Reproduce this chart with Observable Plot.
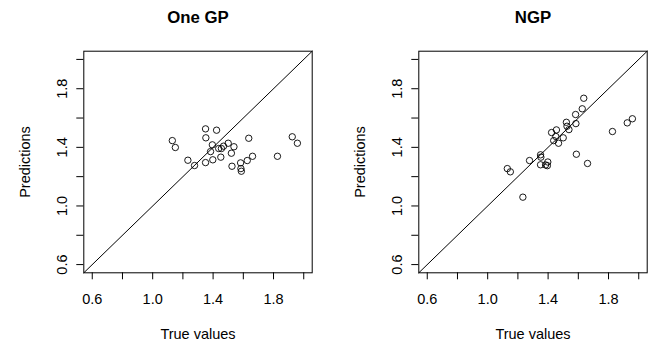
<!DOCTYPE html>
<html>
<head>
<meta charset="utf-8">
<script src="https://cdn.jsdelivr.net/npm/d3@7"></script>
<script src="https://cdn.jsdelivr.net/npm/@observablehq/plot@0.6"></script>
<style>
  html, body { margin: 0; padding: 0; background: #fff; }
  #chart { display: flex; width: 658px; height: 345px; }
</style>
</head>
<body>
<div id="chart"></div>
<script>
// True values (shared by both panels)
const trueValues = [1.13, 1.15, 1.233, 1.277, 1.35, 1.35, 1.352, 1.383, 1.395, 1.398,
  1.423, 1.437, 1.451, 1.455, 1.469, 1.50, 1.521, 1.525, 1.538, 1.582,
  1.584, 1.587, 1.626, 1.636, 1.661, 1.826, 1.924, 1.958];
// Predictions, One GP panel
const oneGpPred = [1.446, 1.399, 1.312, 1.276, 1.526, 1.296, 1.465, 1.371, 1.417, 1.315,
  1.517, 1.392, 1.333, 1.392, 1.408, 1.428, 1.360, 1.271, 1.404, 1.294,
  1.255, 1.237, 1.310, 1.462, 1.339, 1.339, 1.472, 1.428];
// Predictions, NGP panel
const ngpPred = [1.255, 1.233, 1.060, 1.310, 1.349, 1.281, 1.333, 1.280, 1.275, 1.300,
  1.501, 1.446, 1.474, 1.519, 1.428, 1.465, 1.571, 1.544, 1.521, 1.624,
  1.562, 1.353, 1.663, 1.735, 1.290, 1.508, 1.567, 1.595];

const panelTitles = ["One GP", "NGP"];
const axisTicks = [0.6, 0.8, 1.0, 1.2, 1.4, 1.6, 1.8, 2.0];
const axisLabels = [0.6, 1.0, 1.4, 1.8];
const limits = [0.544, 2.056];
const xLabel = "True values";
const yLabel = "Predictions";

const font = "'Liberation Sans', Arial, Helvetica, sans-serif";

function panel(title, preds, ml, mr) {
  const data = trueValues.map((x, i) => ({x, y: preds[i]}));
  return Plot.plot({
    width: 329,
    height: 345,
    marginTop: 50.7,
    marginBottom: 72.7,
    marginLeft: ml,
    marginRight: mr,
    x: {domain: limits, axis: null},
    y: {domain: limits, axis: null},
    style: {fontFamily: font, fontSize: "14.5px", color: "black", background: "white", overflow: "visible"},
    marks: [
      Plot.line(limits, {x: d => d, y: d => d, stroke: "black", strokeWidth: 1}),
      Plot.dot(data, {x: "x", y: "y", r: 3.2, stroke: "black", strokeWidth: 0.9, fill: "none"}),
      Plot.frame({stroke: "black", strokeWidth: 1}),
      Plot.axisX({ticks: axisTicks, tickSize: 7, tickFormat: () => "", label: null, anchor: "bottom"}),
      Plot.axisY({ticks: axisTicks, tickSize: 7, tickFormat: () => "", label: null, anchor: "left"}),
      Plot.text(axisLabels, {x: d => d, text: d => d.toFixed(1), frameAnchor: "bottom", dy: 26.5,
        lineAnchor: "middle", fontSize: 14.5}),
      Plot.text(axisLabels, {y: d => d, text: d => d.toFixed(1), frameAnchor: "left", dx: -21.5,
        rotate: -90, textAnchor: "middle", lineAnchor: "middle", fontSize: 14.5}),
      Plot.text([xLabel], {text: d => d, frameAnchor: "bottom", dy: 62, lineAnchor: "middle", fontSize: 14.5}),
      Plot.text([yLabel], {text: d => d, frameAnchor: "left", dx: -58, rotate: -90,
        textAnchor: "middle", lineAnchor: "middle", fontSize: 14.5}),
      Plot.text([title], {text: d => d, frameAnchor: "top", dy: -34, lineAnchor: "middle",
        fontWeight: "bold", fontSize: 16.8})
    ]
  });
}

const chart = document.getElementById("chart");
chart.appendChild(panel(panelTitles[0], oneGpPred, 83.3, 17.3));
chart.appendChild(panel(panelTitles[1], ngpPred, 89.3, 11.3));
</script>
</body>
</html>
